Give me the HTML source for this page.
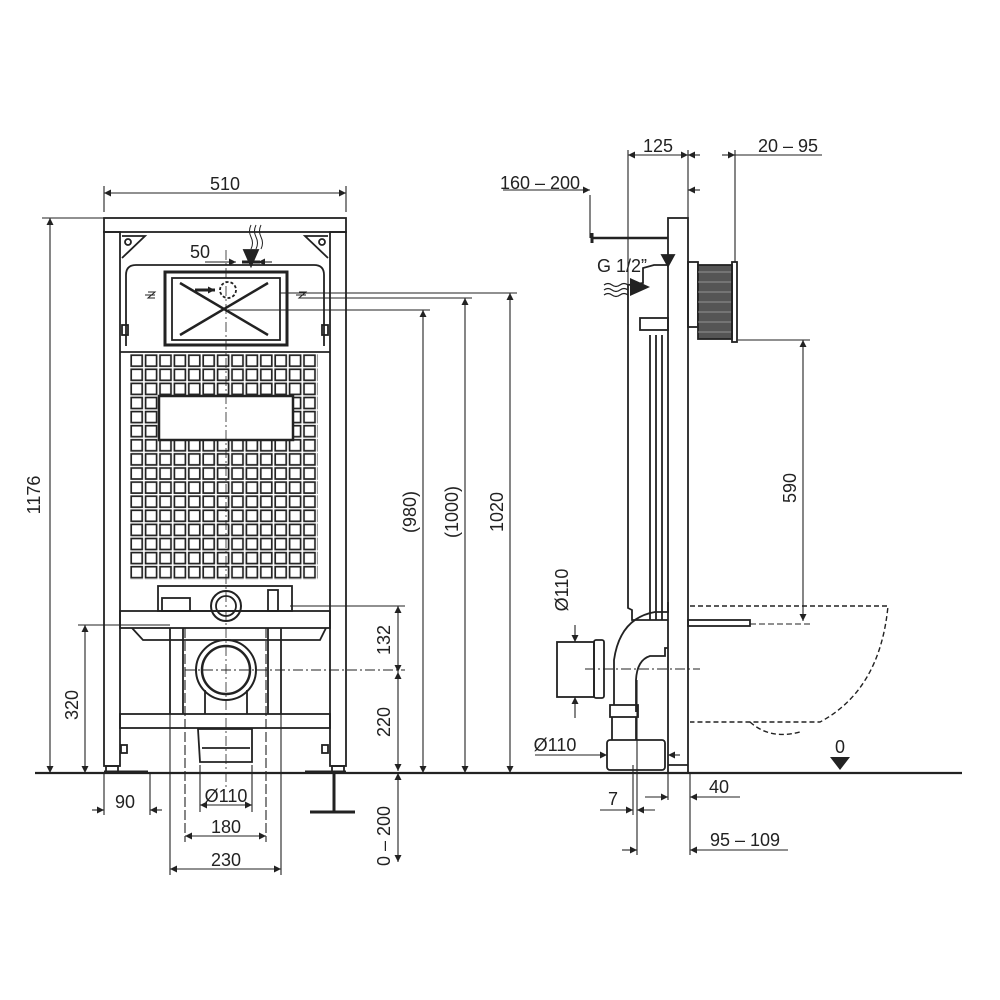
<!DOCTYPE html>
<html><head><meta charset="utf-8"><style>
html,body{margin:0;padding:0;background:#fff}
svg{display:block}
text{font-family:"Liberation Sans",sans-serif;font-size:18px;fill:#222}
</style></head><body>
<svg width="1000" height="1000" viewBox="0 0 1000 1000" xmlns="http://www.w3.org/2000/svg">
<defs>
<pattern id="sq" x="130" y="354" width="14.4" height="14.1" patternUnits="userSpaceOnUse">
<rect x="1.2" y="1.2" width="11" height="11" fill="none" stroke="#222" stroke-width="1.7"/>
</pattern>
<marker id="a" viewBox="0 0 10 10" refX="10" refY="5" markerWidth="10" markerHeight="7" orient="auto-start-reverse" markerUnits="userSpaceOnUse"><path d="M0,0L10,5L0,10z" fill="#222"/></marker>
</defs>
<g stroke="#222" fill="none" stroke-width="1.8">
<line x1="35" y1="773" x2="962" y2="773" stroke-width="2.2"/>
<rect x="104" y="218" width="242" height="14"/>
<rect x="104" y="232" width="16" height="534"/>
<rect x="330" y="232" width="16" height="534"/>
<line x1="120" y1="352" x2="330" y2="352"/>
<path d="M126 346 V275 Q126 265 136 265 H314 Q324 265 324 275 V346"/>
<path d="M122 236 L145 236 L122 258" /><path d="M328 236 L305 236 L328 258"/>
<circle cx="128" cy="242" r="3"/><circle cx="322" cy="242" r="3"/>
<rect x="165" y="272" width="122" height="73" stroke-width="3"/>
<rect x="172" y="278" width="108" height="62"/>
<line x1="180" y1="283" x2="268" y2="335" stroke-width="2.5"/>
<line x1="268" y1="283" x2="180" y2="335" stroke-width="2.5"/>
<circle cx="228" cy="290" r="8" stroke-dasharray="3 2"/>
<path d="M195 290 L215 290" stroke-width="3" marker-end="url(#a)"/>
<line x1="242" y1="262" x2="260" y2="262" stroke-width="3"/>
<path d="M251 225 q-3 6 0 12 q3 6 0 12 M256 225 q-3 6 0 12 q3 6 0 12 M261 225 q-3 6 0 12 q3 6 0 12" stroke-width="1"/>
<path d="M244 250 L258 250 L251 266 Z" fill="#222"/>
<rect x="122" y="325" width="6" height="10"/><rect x="322" y="325" width="6" height="10"/>
<path d="M145 295 h10 M148 292 h7 l-7 6 h7" stroke-width="1"/>
<path d="M296 295 h10 M299 292 h7 l-7 6 h7" stroke-width="1"/>
<rect x="130" y="354" width="188" height="226" fill="url(#sq)" stroke="none"/>
<rect x="159" y="396" width="134" height="44" fill="#fff" stroke-width="2.5"/>
<rect x="158" y="586" width="134" height="25"/>
<rect x="162" y="598" width="28" height="13"/>
<rect x="268" y="590" width="10" height="21"/>
<circle cx="226" cy="606" r="15" stroke-width="2"/><circle cx="226" cy="606" r="10"/>
<rect x="120" y="611" width="210" height="17"/>
<path d="M132 628 L143 640 L320 640 L326 628"/>
<line x1="170" y1="628" x2="170" y2="714"/><line x1="183" y1="628" x2="183" y2="714"/>
<line x1="268" y1="628" x2="268" y2="714"/><line x1="281" y1="628" x2="281" y2="714"/>
<circle cx="226" cy="670" r="30" stroke-width="2"/><circle cx="226" cy="670" r="24" stroke-width="2.5"/>
<path d="M205 690 V714 M247 690 V714"/>
<rect x="120" y="714" width="210" height="14"/>
<path d="M198 729 H252 V762 H200 Z"/><line x1="202" y1="748" x2="250" y2="748"/>
<rect x="106" y="766" width="12" height="7"/><rect x="332" y="766" width="12" height="7"/>
<line x1="104" y1="772" x2="148" y2="772" stroke-width="3"/>
<line x1="305" y1="772" x2="346" y2="772" stroke-width="3"/>
<line x1="334" y1="773" x2="334" y2="812" stroke-width="3"/>
<line x1="310" y1="812" x2="355" y2="812" stroke-width="3"/>
<rect x="121" y="745" width="6" height="8"/><rect x="322" y="745" width="6" height="8"/>
</g>
<g stroke="#222" fill="none" stroke-width="1.1">
<line x1="104" y1="212" x2="104" y2="186"/><line x1="346" y1="212" x2="346" y2="186"/>
<line x1="104" y1="193" x2="346" y2="193" marker-start="url(#a)" marker-end="url(#a)"/>
<line x1="42" y1="218" x2="104" y2="218"/>
<line x1="50" y1="218" x2="50" y2="773" marker-start="url(#a)" marker-end="url(#a)"/>
<line x1="78" y1="625" x2="170" y2="625"/>
<line x1="85" y1="625" x2="85" y2="773" marker-start="url(#a)" marker-end="url(#a)"/>
<line x1="104" y1="773" x2="104" y2="815"/><line x1="150" y1="773" x2="150" y2="815"/>
<line x1="92" y1="810" x2="104" y2="810" marker-end="url(#a)"/><line x1="162" y1="810" x2="150" y2="810" marker-end="url(#a)"/>
<line x1="200" y1="765" x2="200" y2="812"/><line x1="252" y1="765" x2="252" y2="812"/>
<line x1="200" y1="805" x2="252" y2="805" marker-start="url(#a)" marker-end="url(#a)"/>
<line x1="185" y1="628" x2="185" y2="842" stroke-dasharray="10 3"/><line x1="266" y1="628" x2="266" y2="842" stroke-dasharray="10 3"/>
<line x1="185" y1="836" x2="266" y2="836" marker-start="url(#a)" marker-end="url(#a)"/>
<line x1="170" y1="714" x2="170" y2="875"/><line x1="281" y1="714" x2="281" y2="875"/>
<line x1="170" y1="869" x2="281" y2="869" marker-start="url(#a)" marker-end="url(#a)"/>
<line x1="226" y1="250" x2="226" y2="790" stroke-dasharray="10 3 2 3" stroke-width="0.8"/>
<line x1="185" y1="670" x2="405" y2="670" stroke-dasharray="10 3 2 3"/>
<line x1="290" y1="606" x2="405" y2="606"/>
<line x1="398" y1="606" x2="398" y2="672" marker-start="url(#a)" marker-end="url(#a)"/>
<line x1="398" y1="672" x2="398" y2="771" marker-start="url(#a)" marker-end="url(#a)"/>
<line x1="398" y1="773" x2="398" y2="862" marker-start="url(#a)" marker-end="url(#a)"/>
<line x1="205" y1="262" x2="236" y2="262" marker-end="url(#a)"/><line x1="272" y1="262" x2="258" y2="262" marker-end="url(#a)"/>
<line x1="280" y1="293" x2="517" y2="293"/><line x1="305" y1="298" x2="472" y2="298"/><line x1="228" y1="310" x2="430" y2="310"/>
<line x1="423" y1="310" x2="423" y2="773" marker-start="url(#a)" marker-end="url(#a)"/>
<line x1="465" y1="298" x2="465" y2="773" marker-start="url(#a)" marker-end="url(#a)"/>
<line x1="510" y1="293" x2="510" y2="773" marker-start="url(#a)" marker-end="url(#a)"/>
</g>
<g stroke="#222" fill="none" stroke-width="1.8">
<rect x="668" y="218" width="20" height="555"/>
<line x1="668" y1="765" x2="688" y2="765"/>
<path d="M628 325 V608 L632 610 V620 H668"/>
<line x1="650" y1="335" x2="650" y2="620"/><line x1="656" y1="335" x2="656" y2="620"/><line x1="662" y1="335" x2="662" y2="620"/>
<path d="M628 325 V285 L643 283 V268 L654 265 L668 265"/>
<rect x="640" y="318" width="28" height="12"/>
<line x1="592" y1="238" x2="668" y2="238" stroke-width="2.5"/><line x1="592" y1="233" x2="592" y2="243" stroke-width="3"/>
<path d="M662 255 L674 255 L668 266 Z" fill="#222"/>
<rect x="688" y="262" width="10" height="65"/>
<rect x="698" y="265" width="34" height="74" fill="#555"/>
<g stroke="#aaa" stroke-width="0.8"><line x1="698" y1="272" x2="732" y2="272"/><line x1="698" y1="282" x2="732" y2="282"/><line x1="698" y1="292" x2="732" y2="292"/><line x1="698" y1="302" x2="732" y2="302"/><line x1="698" y1="312" x2="732" y2="312"/><line x1="698" y1="322" x2="732" y2="322"/><line x1="698" y1="332" x2="732" y2="332"/></g>
<rect x="732" y="262" width="5" height="80"/>
<path d="M668 602 V612 H655 Q620 618 614 660 V705 M668 648 H665 V656 H650 Q637 660 636 680 V712"/>
<rect x="610" y="705" width="28" height="12"/>
<rect x="607" y="740" width="58" height="30" rx="3"/>
<path d="M612 717 V740 M636 717 V740"/>
<rect x="557" y="642" width="37" height="55"/>
<rect x="594" y="640" width="10" height="58" rx="2"/>
<rect x="688" y="620" width="62" height="6"/>
</g>
<g stroke="#222" fill="none" stroke-width="1.4" stroke-dasharray="5 3">
<path d="M690 606 H888 Q880 690 820 722 H690"/>
<path d="M750 722 Q770 740 800 732"/>
</g>
<g stroke="#222" fill="none" stroke-width="1.1">
<line x1="628" y1="150" x2="628" y2="325"/><line x1="688" y1="150" x2="688" y2="218"/><line x1="735" y1="150" x2="735" y2="262"/>
<line x1="628" y1="155" x2="688" y2="155" marker-start="url(#a)" marker-end="url(#a)"/>
<line x1="700" y1="155" x2="688" y2="155" marker-end="url(#a)"/><line x1="722" y1="155" x2="735" y2="155" marker-end="url(#a)"/><line x1="735" y1="155" x2="822" y2="155"/>
<line x1="590" y1="195" x2="590" y2="238"/>
<line x1="503" y1="190" x2="590" y2="190" marker-end="url(#a)"/><line x1="700" y1="190" x2="688" y2="190" marker-end="url(#a)"/>
<line x1="738" y1="340" x2="810" y2="340"/><line x1="750" y1="624" x2="810" y2="624" stroke-dasharray="6 3"/>
<line x1="803" y1="340" x2="803" y2="621" marker-start="url(#a)" marker-end="url(#a)"/>
<line x1="575" y1="625" x2="575" y2="642" marker-end="url(#a)"/><line x1="575" y1="718" x2="575" y2="697" marker-end="url(#a)"/>
<line x1="585" y1="669" x2="700" y2="669" stroke-dasharray="10 3 2 3"/>
<line x1="535" y1="755" x2="607" y2="755" marker-end="url(#a)"/><line x1="680" y1="755" x2="668" y2="755" marker-end="url(#a)"/>
<line x1="633" y1="765" x2="633" y2="815"/><line x1="637" y1="680" x2="637" y2="855"/><line x1="668" y1="773" x2="668" y2="800"/><line x1="690" y1="773" x2="690" y2="855"/>
<line x1="600" y1="810" x2="633" y2="810" marker-end="url(#a)"/><line x1="655" y1="810" x2="637" y2="810" marker-end="url(#a)"/>
<line x1="645" y1="797" x2="668" y2="797" marker-end="url(#a)"/><line x1="740" y1="797" x2="690" y2="797" marker-end="url(#a)"/>
<line x1="622" y1="850" x2="637" y2="850" marker-end="url(#a)"/><line x1="788" y1="850" x2="690" y2="850" marker-end="url(#a)"/>
<path d="M604 285 q4 -3 8 0 t8 0 t8 0 M604 290 q4 -3 8 0 t8 0 t8 0 M604 295 q4 -3 8 0 t8 0 t8 0"/>
</g>
<path d="M630 278 L650 287 L630 296 Z" fill="#222"/>
<path d="M830 757 L850 757 L840 770 Z" fill="#222"/>
<text x="225" y="190" text-anchor="middle">510</text>
<text x="200" y="258" text-anchor="middle">50</text>
<text x="125" y="808" text-anchor="middle">90</text>
<text x="226" y="802" text-anchor="middle">Ø110</text>
<text x="226" y="833" text-anchor="middle">180</text>
<text x="226" y="866" text-anchor="middle">230</text>
<text transform="translate(40,495) rotate(-90)" text-anchor="middle">1176</text>
<text transform="translate(78,705) rotate(-90)" text-anchor="middle">320</text>
<text transform="translate(390,640) rotate(-90)" text-anchor="middle">132</text>
<text transform="translate(390,722) rotate(-90)" text-anchor="middle">220</text>
<text transform="translate(390,836) rotate(-90)" text-anchor="middle">0 – 200</text>
<text transform="translate(416,512) rotate(-90)" text-anchor="middle">(980)</text>
<text transform="translate(458,512) rotate(-90)" text-anchor="middle">(1000)</text>
<text transform="translate(503,512) rotate(-90)" text-anchor="middle">1020</text>
<text x="658" y="152" text-anchor="middle">125</text>
<text x="788" y="152" text-anchor="middle">20 – 95</text>
<text x="540" y="189" text-anchor="middle">160 – 200</text>
<text x="622" y="272" text-anchor="middle">G 1/2”</text>
<text transform="translate(796,488) rotate(-90)" text-anchor="middle">590</text>
<text transform="translate(568,590) rotate(-90)" text-anchor="middle">Ø110</text>
<text x="555" y="751" text-anchor="middle">Ø110</text>
<text x="840" y="753" text-anchor="middle">0</text>
<text x="613" y="805" text-anchor="middle">7</text>
<text x="719" y="793" text-anchor="middle">40</text>
<text x="745" y="846" text-anchor="middle">95 – 109</text>
</svg>
</body></html>
